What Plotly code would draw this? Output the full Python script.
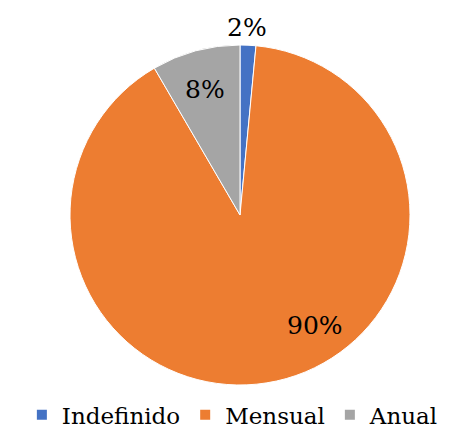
import plotly.graph_objects as go

labels = ["Indefinido", "Mensual", "Anual"]
values = [1.5, 90.1, 8.4]
colors = ["#4472C4", "#ED7D31", "#A5A5A5"]

total = sum(values)
pct_text = [f"{round(v / total * 100)}%" for v in values]
label_pos = [(0.516, 1.05), (0.668, 0.176), (0.4215, 0.868)]

FONT = "DejaVu Serif"

fig = go.Figure(go.Pie(
    labels=labels,
    values=values,
    sort=False,
    direction="clockwise",
    rotation=0,
    marker=dict(colors=colors, line=dict(color="white", width=1)),
    textinfo="none",
    hoverinfo="label+percent",
))

for t, (x, y) in zip(pct_text, label_pos):
    fig.add_annotation(x=x, y=y, xref="paper", yref="paper", text=t,
                       showarrow=False, xanchor="center", yanchor="middle",
                       font=dict(family=FONT, size=25, color="black"))

fig.update_layout(
    width=463, height=434,
    margin=dict(l=17, r=0, t=45, b=49, autoexpand=False),
    paper_bgcolor="white",
    plot_bgcolor="white",
    font=dict(family=FONT, size=23, color="black"),
    showlegend=True,
    legend=dict(orientation="h", x=0.484, xanchor="center", y=-0.088, yanchor="middle",
                font=dict(family=FONT, size=23, color="black"),
                itemsizing="constant", tracegroupgap=0, itemwidth=30),
)

fig.write_html("out.html", config={"displayModeBar": False},
               post_script="document.body.style.margin='0px';")
